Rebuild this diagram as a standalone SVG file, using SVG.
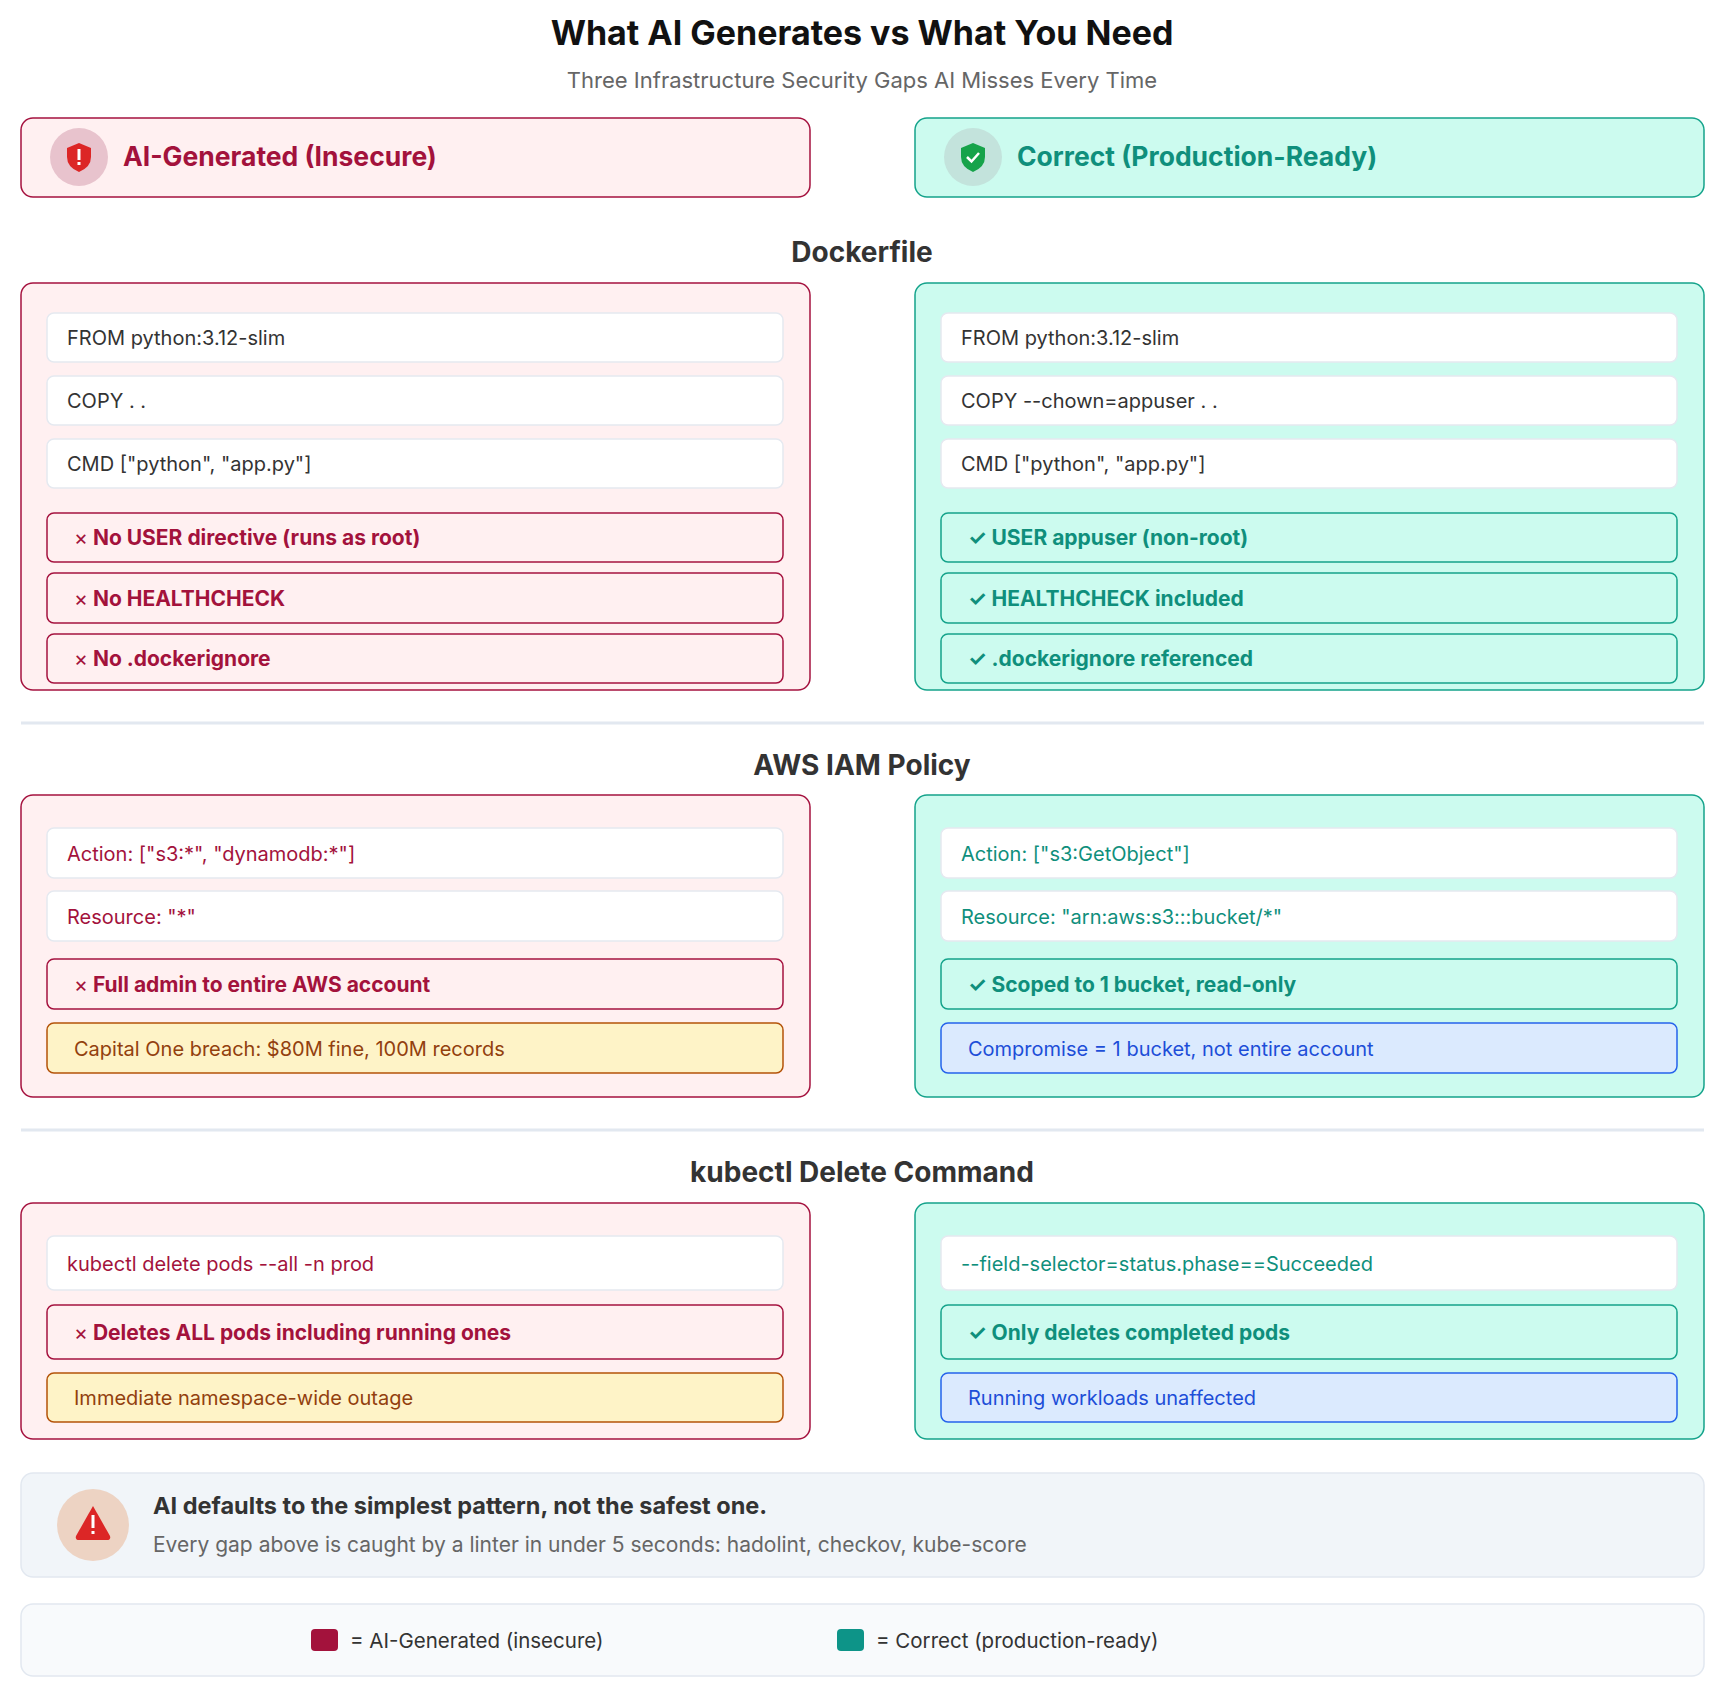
<svg xmlns="http://www.w3.org/2000/svg" width="1724" height="1696" viewBox="0 0 1724 1696">
<style>
text{font-family:Inter,"Noto Sans","Liberation Sans",sans-serif}
.bad{fill:#fff0f1;stroke:#a5123f;stroke-width:1.5}
.good{fill:#ccfbef;stroke:#14a38b;stroke-width:1.5}
.code{fill:#fff;stroke:#e5e9f0;stroke-width:1.5}
.yel{fill:#fef3c7;stroke:#b45309;stroke-width:1.5}
.blu{fill:#dbeafe;stroke:#2563eb;stroke-width:1.5}
.ct{font-size:20px;fill:#333}
.bt{font-size:21px;font-weight:700;fill:#a3123c}
.gt{font-size:21px;font-weight:700;fill:#0f8f7c}
.x{font-weight:400}
.sec{font-size:28px;font-weight:700;fill:#333;text-anchor:middle}
.rc{font-size:20px;fill:#a3123c}
.gc{font-size:20px;fill:#0f8f7c}
.yt{font-size:20px;fill:#92400e}
.lt{font-size:20px;fill:#1d4ed8}
.div{stroke:#e2e8f0;stroke-width:3}
</style>
<rect width="1724" height="1696" fill="#fff"/>
<text x="862" y="45" font-size="34" font-weight="700" fill="#111" text-anchor="middle">What AI Generates vs What You Need</text>
<text x="862" y="88" font-size="22" fill="#666" text-anchor="middle">Three Infrastructure Security Gaps AI Misses Every Time</text>

<g id="header-bad">
<rect class="bad" x="21" y="118" width="789" height="79" rx="12"/>
<circle cx="79" cy="157" r="29" fill="#e8c3cd"/>
<path d="M79 143 L91 148 L91 157 Q91 167 79 172 Q67 167 67 157 L67 148 Z" fill="#dc2626"/>
<rect x="77.5" y="149" width="3" height="11" fill="#fff"/><rect x="77.5" y="162" width="3" height="3" fill="#fff"/>
<text x="123" y="166" font-size="26.5" font-weight="700" fill="#a3123c">AI-Generated (Insecure)</text>
</g>
<g id="header-good">
<rect class="good" x="915" y="118" width="789" height="79" rx="12"/>
<circle cx="973" cy="157" r="29" fill="#c3e3dc"/>
<path d="M973 143 L985 148 L985 157 Q985 167 973 172 Q961 167 961 157 L961 148 Z" fill="#16a34a"/>
<path d="M967 157 L971.5 161.5 L979 153" fill="none" stroke="#fff" stroke-width="2.5"/>
<text x="1017" y="166" font-size="26.5" font-weight="700" fill="#0f8f7c">Correct (Production-Ready)</text>
</g>

<text class="sec" x="862" y="262">Dockerfile</text>
<g id="docker-bad">
<rect class="bad" x="21" y="283" width="789" height="407" rx="12"/>
<rect class="code" x="47" y="313" width="736" height="49" rx="7"/><text class="ct" x="67" y="345">FROM python:3.12-slim</text>
<rect class="code" x="47" y="376" width="736" height="49" rx="7"/><text class="ct" x="67" y="408">COPY . .</text>
<rect class="code" x="47" y="439" width="736" height="49" rx="7"/><text class="ct" x="67" y="471">CMD ["python", "app.py"]</text>
<rect class="bad" x="47" y="513" width="736" height="49" rx="7"/><text class="bt" x="74" y="545"><tspan class="x">×</tspan> No USER directive (runs as root)</text>
<rect class="bad" x="47" y="573" width="736" height="50" rx="7"/><text class="bt" x="74" y="606"><tspan class="x">×</tspan> No HEALTHCHECK</text>
<rect class="bad" x="47" y="634" width="736" height="49" rx="7"/><text class="bt" x="74" y="666"><tspan class="x">×</tspan> No .dockerignore</text>
</g>
<g id="docker-good">
<rect class="good" x="915" y="283" width="789" height="407" rx="12"/>
<rect class="code" x="941" y="313" width="736" height="49" rx="7"/><text class="ct" x="961" y="345">FROM python:3.12-slim</text>
<rect class="code" x="941" y="376" width="736" height="49" rx="7"/><text class="ct" x="961" y="408">COPY --chown=appuser . .</text>
<rect class="code" x="941" y="439" width="736" height="49" rx="7"/><text class="ct" x="961" y="471">CMD ["python", "app.py"]</text>
<rect class="good" x="941" y="513" width="736" height="49" rx="7"/><text class="gt" x="968" y="545">✓ USER appuser (non-root)</text>
<rect class="good" x="941" y="573" width="736" height="50" rx="7"/><text class="gt" x="968" y="606">✓ HEALTHCHECK included</text>
<rect class="good" x="941" y="634" width="736" height="49" rx="7"/><text class="gt" x="968" y="666">✓ .dockerignore referenced</text>
</g>
<line class="div" x1="21" y1="723" x2="1704" y2="723"/>

<text class="sec" x="862" y="775">AWS IAM Policy</text>
<g id="iam-bad">
<rect class="bad" x="21" y="795" width="789" height="302" rx="12"/>
<rect class="code" x="47" y="828" width="736" height="50" rx="7"/><text class="rc" x="67" y="861">Action: ["s3:*", "dynamodb:*"]</text>
<rect class="code" x="47" y="891" width="736" height="50" rx="7"/><text class="rc" x="67" y="924">Resource: "*"</text>
<rect class="bad" x="47" y="959" width="736" height="50" rx="7"/><text class="bt" x="74" y="992"><tspan class="x">×</tspan> Full admin to entire AWS account</text>
<rect class="yel" x="47" y="1023" width="736" height="50" rx="7"/><text class="yt" x="74" y="1056">Capital One breach: $80M fine, 100M records</text>
</g>
<g id="iam-good">
<rect class="good" x="915" y="795" width="789" height="302" rx="12"/>
<rect class="code" x="941" y="828" width="736" height="50" rx="7"/><text class="gc" x="961" y="861">Action: ["s3:GetObject"]</text>
<rect class="code" x="941" y="891" width="736" height="50" rx="7"/><text class="gc" x="961" y="924">Resource: "arn:aws:s3:::bucket/*"</text>
<rect class="good" x="941" y="959" width="736" height="50" rx="7"/><text class="gt" x="968" y="992">✓ Scoped to 1 bucket, read-only</text>
<rect class="blu" x="941" y="1023" width="736" height="50" rx="7"/><text class="lt" x="968" y="1056">Compromise = 1 bucket, not entire account</text>
</g>
<line class="div" x1="21" y1="1130" x2="1704" y2="1130"/>

<text class="sec" x="862" y="1182">kubectl Delete Command</text>
<g id="kube-bad">
<rect class="bad" x="21" y="1203" width="789" height="236" rx="12"/>
<rect class="code" x="47" y="1236" width="736" height="54" rx="7"/><text class="rc" x="67" y="1271">kubectl delete pods --all -n prod</text>
<rect class="bad" x="47" y="1305" width="736" height="54" rx="7"/><text class="bt" x="74" y="1340"><tspan class="x">×</tspan> Deletes ALL pods including running ones</text>
<rect class="yel" x="47" y="1373" width="736" height="49" rx="7"/><text class="yt" x="74" y="1405">Immediate namespace-wide outage</text>
</g>
<g id="kube-good">
<rect class="good" x="915" y="1203" width="789" height="236" rx="12"/>
<rect class="code" x="941" y="1236" width="736" height="54" rx="7"/><text class="gc" x="961" y="1271">--field-selector=status.phase==Succeeded</text>
<rect class="good" x="941" y="1305" width="736" height="54" rx="7"/><text class="gt" x="968" y="1340">✓ Only deletes completed pods</text>
<rect class="blu" x="941" y="1373" width="736" height="49" rx="7"/><text class="lt" x="968" y="1405">Running workloads unaffected</text>
</g>

<g id="callout">
<rect x="21" y="1473" width="1683" height="104" rx="12" fill="#f1f5f9" stroke="#e2e8f0" stroke-width="1.5"/>
<circle cx="93" cy="1525" r="36" fill="#edd3c3"/>
<path d="M93 1506 L110 1536 Q111 1540 107 1540 L79 1540 Q75 1540 76 1536 Z" fill="#dc2626"/>
<rect x="91.5" y="1515" width="3" height="13" fill="#fff"/><rect x="91.5" y="1531" width="3" height="3" fill="#fff"/>
<text x="153" y="1514" font-size="23.5" font-weight="700" fill="#333">AI defaults to the simplest pattern, not the safest one.</text>
<text x="153" y="1552" font-size="21" fill="#666">Every gap above is caught by a linter in under 5 seconds: hadolint, checkov, kube-score</text>
</g>
<g id="legend">
<rect x="21" y="1604" width="1683" height="72" rx="12" fill="#f8fafc" stroke="#e2e8f0" stroke-width="1.5"/>
<rect x="311" y="1629" width="27" height="22" rx="4" fill="#a3123c"/>
<text x="350" y="1648" font-size="20.5" fill="#333">= AI-Generated (insecure)</text>
<rect x="837" y="1629" width="27" height="22" rx="4" fill="#0d9488"/>
<text x="876" y="1648" font-size="20.5" fill="#333">= Correct (production-ready)</text>
</g>
</svg>
